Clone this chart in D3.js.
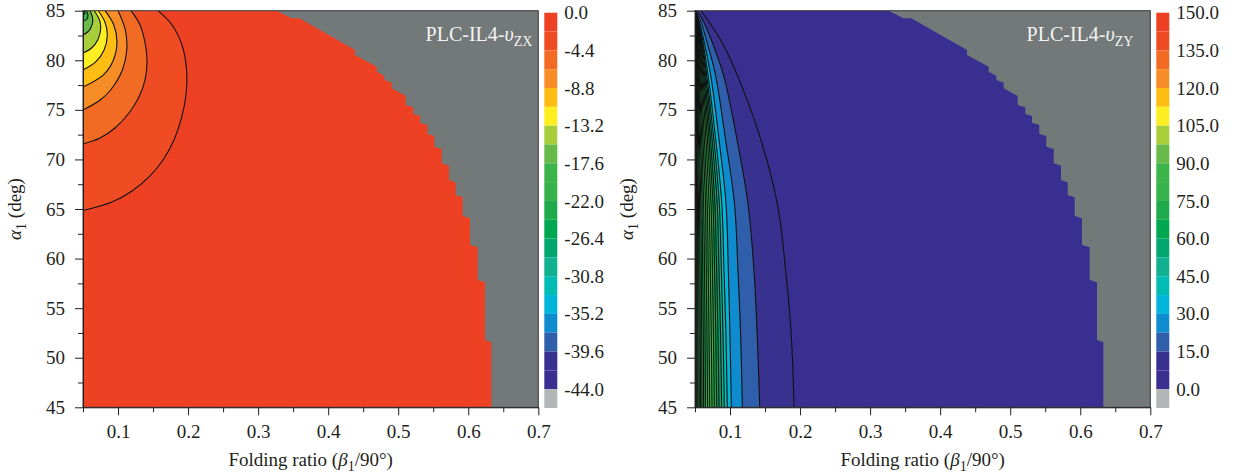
<!DOCTYPE html>
<html>
<head>
<meta charset="utf-8">
<script src="https://cdn.jsdelivr.net/npm/d3@7"></script>
<style>
  body { margin: 0; background: #fff; }
  svg text { font-family: "Liberation Serif", "Times New Roman", serif; fill: #231f20; }
</style>
</head>
<body>
<svg id="chart" width="1242" height="476"></svg>
<script>
// colour bands of the colour bar, from the top band down
let bandColors = ['#ee4123', '#f04c24', '#f26b24', '#f68d26', '#fdbd13', '#fcee21', '#a9ce3b', '#68bb4b',
                  '#3bb54a', '#35b24a', '#1fab4b', '#00a650', '#00a66e', '#10b090', '#00bcb4', '#00b5d9',
                  '#0e8ccf', '#2f5fab', '#39318f', '#3a2f90'];
let belowColor = '#b3b6b7';
let infeasibleColor = '#737878';

let alphaTicks = [45, 50, 55, 60, 65, 70, 75, 80, 85];
let alphaMinor = [47.5, 52.5, 57.5, 62.5, 67.5, 72.5, 77.5, 82.5];
let betaTicks = [0.1, 0.2, 0.3, 0.4, 0.5, 0.6, 0.7];
let betaMinor = [0.05, 0.15, 0.25, 0.35, 0.45, 0.55, 0.65];

let zxLabels = [0.0, -4.4, -8.8, -13.2, -17.6, -22.0, -26.4, -30.8, -35.2, -39.6, -44.0];
let zyLabels = [150.0, 135.0, 120.0, 105.0, 90.0, 75.0, 60.0, 45.0, 30.0, 15.0, 0.0];

// edge of the feasible region [beta, alpha]
let boundary = [[0.3265, 85], [0.3479, 84.23], [0.3588, 84.23], [0.4383, 81.04], [0.4383, 80.53],
                [0.4693, 79.35], [0.4693, 78.85], [0.4802, 78.41], [0.4802, 78.01], [0.4907, 77.74],
                [0.4907, 77.17], [0.5107, 76.40], [0.5107, 75.49], [0.5215, 75.26], [0.5215, 74.58],
                [0.5311, 74.38], [0.5311, 73.70], [0.5415, 73.47], [0.5415, 72.56], [0.5515, 72.36],
                [0.5515, 71.28], [0.5621, 71.05], [0.5621, 69.61], [0.5725, 69.37], [0.5725, 67.92],
                [0.5821, 67.69], [0.5821, 66.41], [0.5920, 66.18], [0.5920, 64.29], [0.6025, 64.06],
                [0.6025, 61.37], [0.6135, 61.14], [0.6135, 57.84], [0.6239, 57.61], [0.6239, 51.79],
                [0.6329, 51.56], [0.6329, 45]];

// vZX contour lines, outermost first, [beta, alpha] from top edge to left edge
let zxContours = [
  [[0.1571, 85], [0.1771, 83.56], [0.1913, 81.54], [0.1978, 79.02], [0.1970, 76.50], [0.1906, 74.18],
   [0.1799, 71.96], [0.1642, 69.94], [0.1442, 68.23], [0.1200, 66.82], [0.0914, 65.71], [0.05, 64.85]],
  [[0.1185, 85], [0.1314, 83.56], [0.1392, 81.54], [0.1414, 79.83], [0.1385, 78.01], [0.1299, 76.30],
   [0.1157, 74.68], [0.0957, 73.17], [0.0743, 72.16], [0.05, 71.56]],
  [[0.1000, 85], [0.1105, 83.05], [0.1125, 81.04], [0.1062, 79.02], [0.0894, 77.00], [0.0746, 75.99], [0.05, 74.98]],
  [[0.0814, 85], [0.0940, 83.56], [0.0985, 81.84], [0.0934, 80.03], [0.0791, 78.52], [0.05, 77.30]],
  [[0.0718, 85], [0.0813, 83.86], [0.0847, 82.55], [0.0801, 81.04], [0.0681, 79.83], [0.05, 79.02]],
  [[0.0661, 85], [0.0736, 84.06], [0.0753, 83.26], [0.0711, 82.04], [0.0623, 81.24], [0.05, 80.73]],
  [[0.0600, 85], [0.0641, 84.06], [0.0611, 83.26], [0.0566, 82.85], [0.05, 82.55]],
  [[0.0550, 85], [0.0571, 84.57], [0.0557, 84.16], [0.05, 83.96]],
  [[0.0521, 85], [0.0529, 84.70], [0.05, 84.66]]
];

// vZY contour lines, outermost first: beta at each alpha of zyAlpha
let zyAlpha = [85, 84, 82, 78.5, 72, 65.5, 58.7, 52, 45];
let zyContours = [
  [0.0586, 0.0686, 0.0871, 0.1104, 0.1439, 0.1676, 0.1796, 0.1876, 0.1914],
  [0.0533, 0.0614, 0.0736, 0.0907, 0.1100, 0.1257, 0.1343, 0.1390, 0.1424],
  [0.0510, 0.0579, 0.0664, 0.0793, 0.0936, 0.1064, 0.1114, 0.1153, 0.1176],
  [0.0504, 0.0557, 0.0626, 0.0724, 0.0843, 0.0943, 0.0976, 0.1000, 0.1019],
  [0.0503, 0.0547, 0.0609, 0.0686, 0.0796, 0.0883, 0.0914, 0.0943, 0.0961],
  [0.0500, 0.0541, 0.0599, 0.0667, 0.0769, 0.0847, 0.0877, 0.0901, 0.0919],
  [0.0500, 0.0539, 0.0590, 0.0653, 0.0744, 0.0817, 0.0843, 0.0866, 0.0881],
  [0.0500, 0.0534, 0.0580, 0.0637, 0.0720, 0.0784, 0.0809, 0.0829, 0.0843],
  [0.0500, 0.0531, 0.0573, 0.0624, 0.0699, 0.0757, 0.0779, 0.0797, 0.0810],
  [0.0500, 0.0527, 0.0564, 0.0610, 0.0677, 0.0729, 0.0749, 0.0764, 0.0776],
  [0.0500, 0.0524, 0.0557, 0.0597, 0.0656, 0.0701, 0.0719, 0.0733, 0.0743],
  [0.0500, 0.0521, 0.0550, 0.0584, 0.0634, 0.0674, 0.0689, 0.0701, 0.0710],
  [0.0500, 0.0519, 0.0541, 0.0571, 0.0614, 0.0649, 0.0661, 0.0671, 0.0679],
  [0.0500, 0.0516, 0.0536, 0.0560, 0.0596, 0.0624, 0.0636, 0.0644, 0.0650],
  [0.0500, 0.0513, 0.0529, 0.0549, 0.0579, 0.0601, 0.0610, 0.0619, 0.0623],
  [0.0500, 0.0510, 0.0523, 0.0540, 0.0564, 0.0583, 0.0590, 0.0596, 0.0600],
  [0.0500, 0.0508, 0.0518, 0.0531, 0.0550, 0.0565, 0.0571, 0.0575, 0.0579],
  [0.0500, 0.0506, 0.0514, 0.0524, 0.0538, 0.0550, 0.0554, 0.0558, 0.0560],
  [0.0500, 0.0504, 0.0510, 0.0517, 0.0527, 0.0536, 0.0539, 0.0541, 0.0543],
  [0.0500, 0.0503, 0.0507, 0.0511, 0.0518, 0.0524, 0.0526, 0.0527, 0.0529],
  [0.0500, 0.0502, 0.0504, 0.0507, 0.0511, 0.0514, 0.0515, 0.0516, 0.0517]
];
// band colour seen inside each vZY contour (the innermost strips read as greens)
let zyInnerBands = [18, 17, 16, 15, 14, 13, 12, 11, 10, 9, 8, 10, 8, 11, 9, 10, 8, 9, 8, 9, 8];

let svg = d3.select('#chart');
let fontSize = 19;

function drawPanel(opt) {
  let x = d3.scaleLinear().domain([0.05, 0.7]).range([opt.left, opt.left + 455.3]);
  let y = d3.scaleLinear().domain([45, 85]).range([407.3, 10.7]);
  let g = svg.append('g');

  g.append('clipPath').attr('id', opt.id + 'clip')
   .append('rect')
   .attr('x', x(0.05)).attr('y', y(85))
   .attr('width', x(0.7) - x(0.05)).attr('height', y(45) - y(85));

  let plot = g.append('g').attr('clip-path', `url(#${opt.id}clip)`);

  // base band
  plot.append('rect')
      .attr('x', x(0.05)).attr('y', y(85))
      .attr('width', x(0.7) - x(0.05)).attr('height', y(45) - y(85))
      .attr('fill', opt.baseColor);

  // infeasible region
  let edge = d3.line().x(d => x(d[0])).y(d => y(d[1]));
  plot.append('path')
      .attr('d', edge(boundary.concat([[0.7, 45], [0.7, 85]])) + 'Z')
      .attr('fill', infeasibleColor);

  // contour bands and lines
  let curve = d3.line().x(d => x(d[0])).y(d => y(d[1])).curve(d3.curveCatmullRom.alpha(0.5));
  opt.contours.forEach((pts, k) => {
    plot.append('path')
        .attr('d', curve(pts) + opt.close(x, y))
        .attr('fill', opt.fillFor(k));
  });
  opt.contours.forEach(pts => {
    plot.append('path')
        .attr('d', curve(pts))
        .attr('fill', 'none')
        .attr('stroke', '#111')
        .attr('stroke-width', 1.1);
  });

  // frame
  g.append('rect')
   .attr('x', x(0.05)).attr('y', y(85))
   .attr('width', x(0.7) - x(0.05)).attr('height', y(45) - y(85))
   .attr('fill', 'none').attr('stroke', '#333').attr('stroke-width', 1);

  // axes
  g.append('g').attr('transform', `translate(${x(0.05)},0)`)
   .call(d3.axisLeft(y).tickValues(alphaTicks).tickSizeInner(8).tickSizeOuter(0).tickPadding(10));
  g.append('g').attr('transform', `translate(${x(0.05)},0)`)
   .call(d3.axisLeft(y).tickValues(alphaMinor).tickSize(5).tickFormat(''))
   .select('.domain').remove();
  g.append('g').attr('transform', `translate(0,${y(45)})`)
   .call(d3.axisBottom(x).tickValues(betaTicks).tickSizeInner(8).tickSizeOuter(0).tickPadding(9)
            .tickFormat(d => d.toFixed(1)));
  g.append('g').attr('transform', `translate(0,${y(45)})`)
   .call(d3.axisBottom(x).tickValues(betaMinor).tickSize(5).tickFormat(''))
   .select('.domain').remove();
  g.selectAll('.tick text').style('font-size', fontSize + 'px').style('font-family', '"Liberation Serif", serif')
   .attr('fill', '#231f20');
  g.selectAll('.tick line, .domain').attr('stroke', '#231f20');

  // axis titles
  let xt = g.append('text')
            .attr('x', (x(0.05) + x(0.7)) / 2).attr('y', 466)
            .attr('text-anchor', 'middle').style('font-size', fontSize + 'px');
  xt.append('tspan').text('Folding ratio (');
  xt.append('tspan').text('β').style('font-style', 'italic');
  xt.append('tspan').text('1').attr('dy', 5).style('font-size', '14px');
  xt.append('tspan').text('/90°)').attr('dy', -5);

  let yt = g.append('text')
            .attr('transform', `translate(${opt.left - 62},${y(65)}) rotate(-90)`)
            .attr('text-anchor', 'middle').style('font-size', fontSize + 'px');
  yt.append('tspan').text('α').style('font-style', 'italic');
  yt.append('tspan').text('1').attr('dy', 5).style('font-size', '14px');
  yt.append('tspan').text(' (deg)').attr('dy', -5);

  // panel label
  let lab = g.append('text')
             .attr('x', x(0.7) - opt.labelPad).attr('y', 41)
             .attr('text-anchor', 'end').style('font-size', '20px');
  lab.append('tspan').text('PLC-IL4-').attr('fill', '#f4f4f4');
  lab.append('tspan').text('υ').attr('fill', '#f4f4f4').style('font-style', 'italic');
  lab.append('tspan').text(opt.sub).attr('dy', 5).attr('fill', '#f4f4f4').style('font-size', '14px');

  // colour bar
  let step = opt.step;
  let cb = d3.scaleLinear().domain([opt.cbMin - step, opt.cbMax]).range([408, 12.7]);
  let cbx = x(0.7) + 6;
  bandColors.forEach((c, i) => {
    let top = opt.cbMax - i * step;
    g.append('rect')
     .attr('x', cbx).attr('y', cb(top))
     .attr('width', 13).attr('height', cb(top - step) - cb(top))
     .attr('fill', c);
  });
  g.append('rect')
   .attr('x', cbx).attr('y', cb(opt.cbMin))
   .attr('width', 13).attr('height', cb(opt.cbMin - step) - cb(opt.cbMin))
   .attr('fill', belowColor);
  let cbAxis = g.append('g').attr('transform', `translate(${cbx + 13},0)`)
                .call(d3.axisRight(cb).tickValues(opt.labels).tickSize(0).tickPadding(7)
                         .tickFormat(d => d.toFixed(1)));
  cbAxis.select('.domain').remove();
  cbAxis.selectAll('text').style('font-size', fontSize + 'px').style('font-family', '"Liberation Serif", serif')
        .attr('fill', '#231f20');
}

drawPanel({
  id: 'zx', left: 83, sub: 'ZX', labelPad: 6,
  baseColor: bandColors[0],
  contours: zxContours,
  fillFor: k => bandColors[k + 1],
  close: (x, y) => `L${x(0.05)},${y(85)}Z`,
  step: 2.2, cbMin: -44, cbMax: 0, labels: zxLabels
});

drawPanel({
  id: 'zy', left: 695, sub: 'ZY', labelPad: 17,
  baseColor: bandColors[19],
  contours: zyContours.map(c => c.map((b, j) => [b, zyAlpha[j]])),
  fillFor: k => bandColors[zyInnerBands[k]],
  close: (x, y) => `L${x(0.05)},${y(45)}L${x(0.05)},${y(85)}Z`,
  step: 7.5, cbMin: 0, cbMax: 150, labels: zyLabels
});
</script>
</body>
</html>
